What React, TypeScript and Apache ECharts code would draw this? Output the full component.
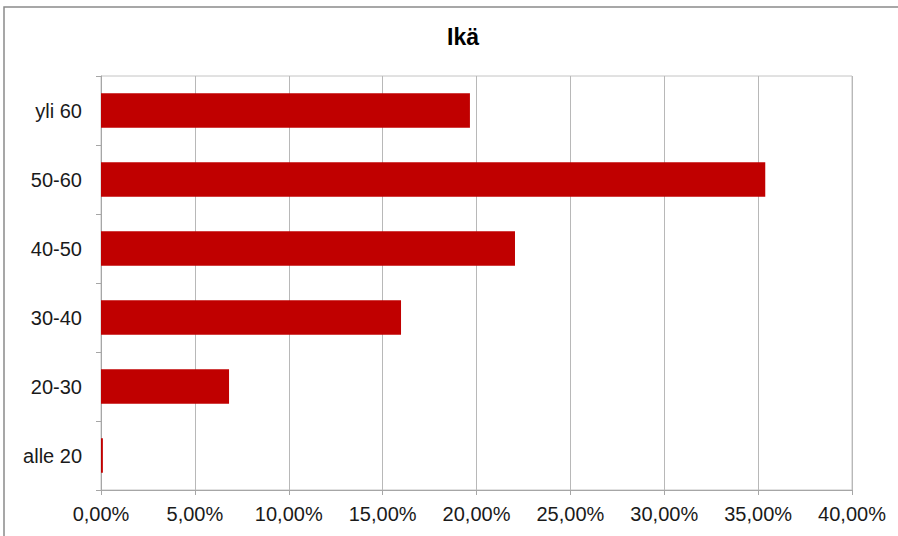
import React, { useEffect, useRef } from "react";
import * as echarts from "echarts";

const titleText = "Ikä";
const categories = ["alle 20", "20-30", "30-40", "40-50", "50-60", "yli 60"];
const values = [0.1, 6.82, 15.98, 22.05, 35.38, 19.65];
const xMin = 0;
const xMax = 40;
const xInterval = 5;

export default function App() {
  const ref = useRef<HTMLDivElement>(null);
  useEffect(() => {
    if (!ref.current) return;
    const chart = echarts.init(ref.current, null, { renderer: "svg" });
    const font = "Arial, 'Liberation Sans', sans-serif";
    chart.setOption({
      animation: false,
      backgroundColor: "#ffffff",
      textStyle: { fontFamily: font },
      title: {
        text: titleText,
        left: 458,
        top: 20,
        textAlign: "center",
        textStyle: { fontFamily: font, fontWeight: "bold", fontSize: 23, color: "#000" },
      },
      graphic: [
        {
          type: "rect",
          shape: { x: 4, y: 7, width: 1000, height: 1000 },
          style: { fill: "none", stroke: "#8a8a8a", lineWidth: 1.5 },
          silent: true,
        },
      ],
      grid: {
        left: 101,
        right: 46,
        top: 76,
        bottom: 46,
        show: true,
        borderColor: "#c4c4c4",
        borderWidth: 1,
        backgroundColor: "transparent",
      },
      xAxis: {
        type: "value",
        min: xMin,
        max: xMax,
        interval: xInterval,
        axisLine: { show: true, lineStyle: { color: "#a6a6a6", width: 1 } },
        axisTick: { show: true, length: 5, lineStyle: { color: "#a6a6a6" } },
        splitLine: { show: true, lineStyle: { color: "#b8b8b8", width: 1 } },
        axisLabel: {
          margin: 14,
          fontSize: 20,
          color: "#1a1a1a",
          fontFamily: font,
          formatter: (v: number) => v.toFixed(2).replace(".", ",") + "%",
        },
      },
      yAxis: {
        type: "category",
        data: categories,
        axisLine: { show: true, lineStyle: { color: "#a6a6a6", width: 1 } },
        axisTick: { show: true, length: 5, lineStyle: { color: "#a6a6a6" } },
        splitLine: { show: false },
        axisLabel: { margin: 19, fontSize: 20, color: "#1a1a1a", fontFamily: font },
      },
      series: [
        {
          type: "bar",
          data: values,
          barCategoryGap: "50%",
          itemStyle: { color: "#c00000" },
        },
      ],
    });
    return () => chart.dispose();
  }, []);
  return (
    <div
      ref={ref}
      style={{ position: "absolute", left: 0, top: 0, width: 898, height: 536 }}
    />
  );
}
